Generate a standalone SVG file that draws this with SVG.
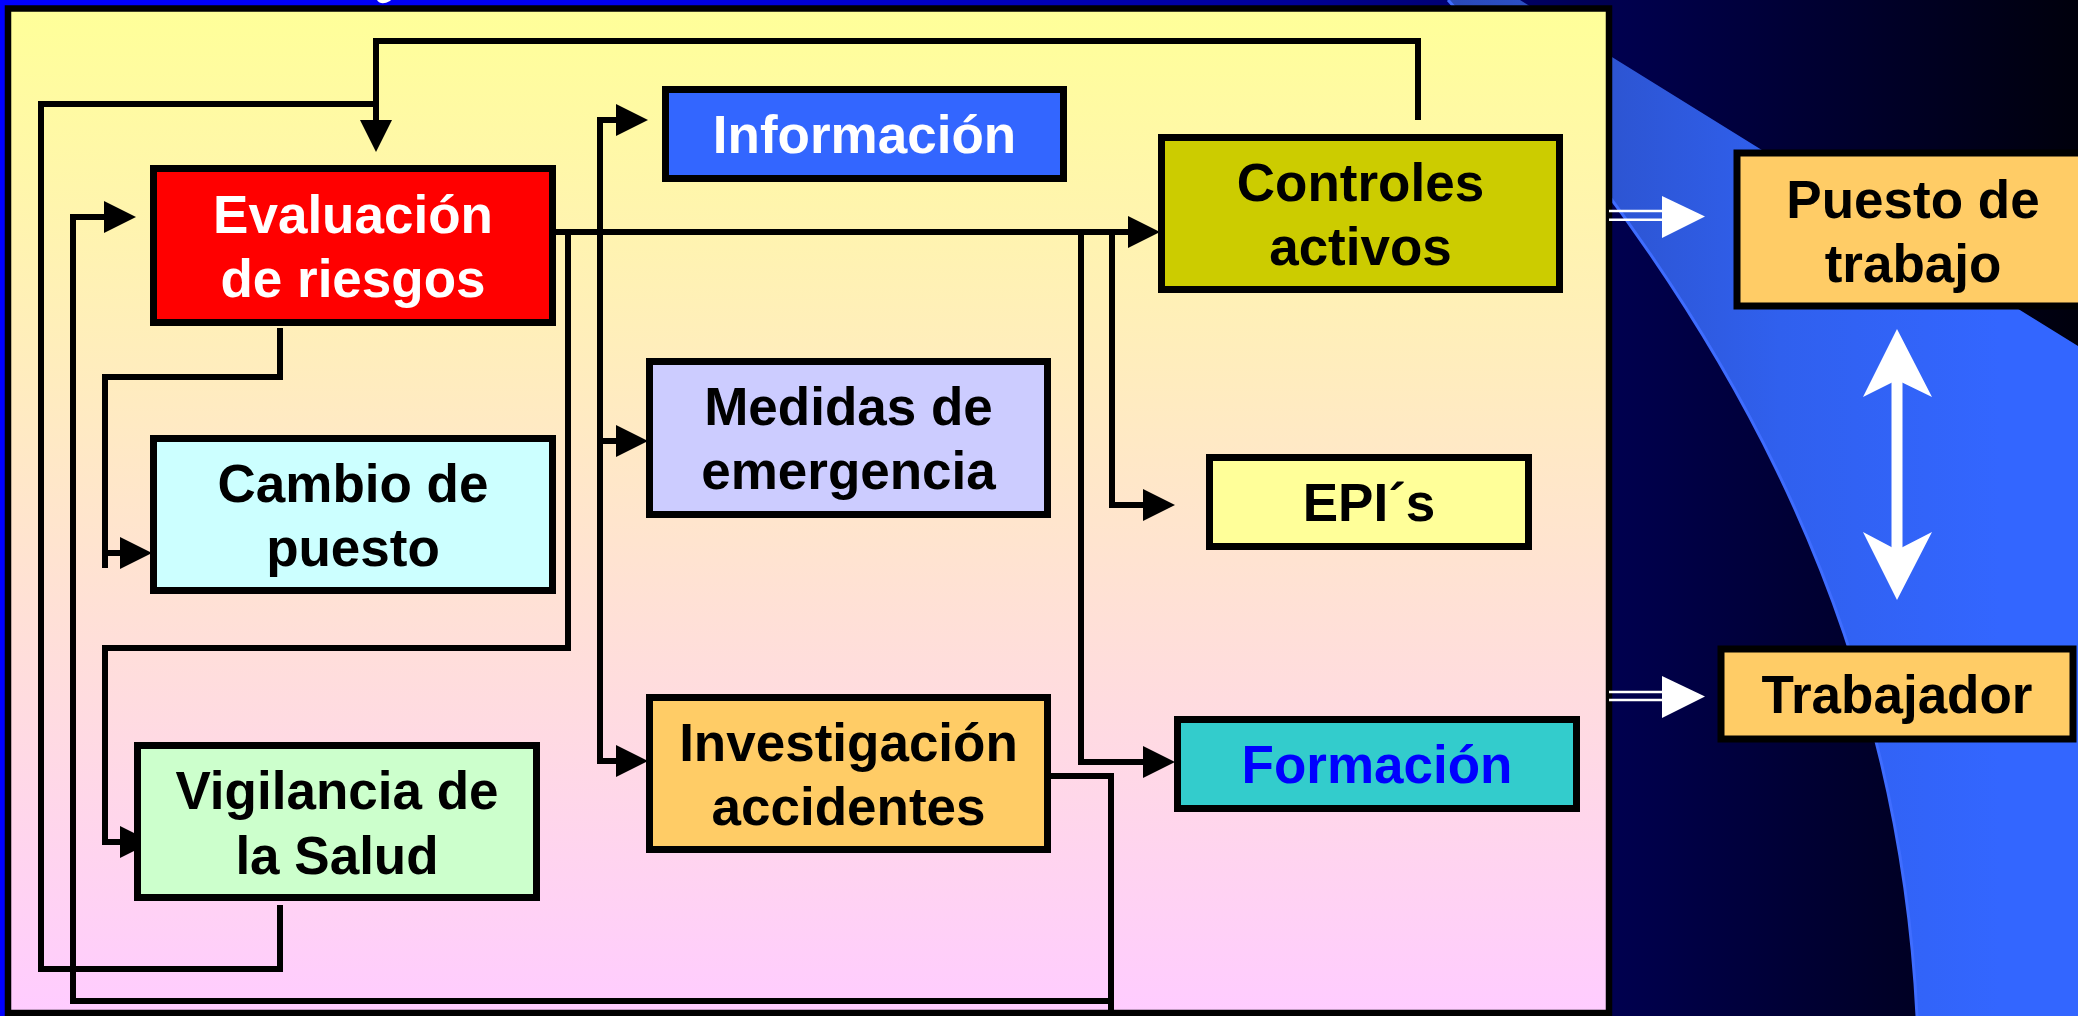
<svg xmlns="http://www.w3.org/2000/svg" width="2078" height="1016" viewBox="0 0 2078 1016">
<defs>
<linearGradient id="bg" gradientUnits="userSpaceOnUse" x1="0" y1="0" x2="2078" y2="0">
<stop offset="0" stop-color="#0000ff"/>
<stop offset="0.28" stop-color="#0000f0"/>
<stop offset="0.62" stop-color="#000096"/>
<stop offset="0.78" stop-color="#00004e"/>
<stop offset="1" stop-color="#00000c"/>
</linearGradient>
<linearGradient id="sw" gradientUnits="userSpaceOnUse" x1="1450" y1="0" x2="2000" y2="0">
<stop offset="0" stop-color="#2a4ab8"/>
<stop offset="0.6" stop-color="#3060ee"/>
<stop offset="1" stop-color="#3366ff"/>
</linearGradient>
<linearGradient id="panel" gradientUnits="userSpaceOnUse" x1="0" y1="10" x2="0" y2="1012">
<stop offset="0" stop-color="#ffff99"/>
<stop offset="1" stop-color="#ffccff"/>
</linearGradient>
<marker id="ah" viewBox="0 -16 32 32" refX="0" refY="0" markerWidth="32" markerHeight="32" markerUnits="userSpaceOnUse" orient="auto-start-reverse">
<path d="M0,-16 L32,0 L0,16 Z" fill="#000"/>
</marker>
<style>
.node rect{stroke:#000;stroke-width:7}
.node text{font-family:"Liberation Sans",Arial,sans-serif;font-weight:bold;font-size:53px;text-anchor:middle;fill:#000}
.conn path{fill:none;stroke:#000;stroke-width:6;stroke-linejoin:miter;stroke-linecap:butt}
.warrow{fill:#fff}
.wline{stroke:#fff;stroke-width:2.6}
</style>
</defs>
<rect x="0" y="0" width="2078" height="1016" fill="url(#bg)"/>
<path d="M1448,0 C1720,300 1897,616 1917,1016 L2078,1016 L2078,346 L1520,0 Z" fill="url(#sw)"/>
<path d="M1448,0 C1720,300 1897,616 1917,1016" fill="none" stroke="#3f6dff" stroke-width="3"/>
<path d="M377,0 Q381,6 390,1 L391,0 Z" fill="#fff"/>
<rect id="panel" x="8" y="8.5" width="1601" height="1004.5" fill="url(#panel)" stroke="#000" stroke-width="6.5"/>
<g id="connectors" class="conn">
<path d="M1418,120 V41 H376 V120" marker-end="url(#ah)"/>
<path d="M280,905 V969 H41 V104 H376"/>
<path d="M1051,776 H1111 V1016 M1111,1001 H73 V217 H104" marker-end="url(#ah)"/>
<path d="M280,328 V377 H105 V568 M105,553 H120" marker-end="url(#ah)"/>
<path d="M556,232 H1128" marker-end="url(#ah)"/>
<path d="M568,232 V648 H105 V842 H120" marker-end="url(#ah)"/>
<path d="M616,120 H600 V761 H616" marker-start="url(#ah)" marker-end="url(#ah)"/>
<path d="M600,441 H616" marker-end="url(#ah)"/>
<path d="M1081,232 V762 H1143" marker-end="url(#ah)"/>
<path d="M1112,232 V505 H1143" marker-end="url(#ah)"/>
</g>
<g id="evaluacion" class="node">
<rect x="153.5" y="168.5" width="399" height="154" fill="#ff0000"/>
<text x="353" y="233" fill="#fff" style="fill:#fff">Evaluación</text>
<text x="353" y="297" style="fill:#fff">de riesgos</text>
</g>
<g id="informacion" class="node">
<rect x="665.5" y="89.5" width="398" height="89" fill="#3366ff"/>
<text x="864.5" y="153" style="fill:#fff">Información</text>
</g>
<g id="controles" class="node">
<rect x="1161.5" y="137.5" width="398" height="152" fill="#cccc00"/>
<text x="1360.5" y="201">Controles</text>
<text x="1360.5" y="265">activos</text>
</g>
<g id="medidas" class="node">
<rect x="649.5" y="361.5" width="398" height="153" fill="#ccccff"/>
<text x="848.5" y="425">Medidas de</text>
<text x="848.5" y="489">emergencia</text>
</g>
<g id="epis" class="node">
<rect x="1209.5" y="457.5" width="319" height="89" fill="#ffff99"/>
<text x="1369" y="521">EPI´s</text>
</g>
<g id="cambio" class="node">
<rect x="153.5" y="438.5" width="399" height="152" fill="#ccffff"/>
<text x="353" y="502">Cambio de</text>
<text x="353" y="566">puesto</text>
</g>
<g id="vigilancia" class="node">
<rect x="137.5" y="745.5" width="399" height="152" fill="#ccffcc"/>
<text x="337" y="809">Vigilancia de</text>
<text x="337" y="874">la Salud</text>
</g>
<g id="investigacion" class="node">
<rect x="649.5" y="697.5" width="398" height="152" fill="#ffcc66"/>
<text x="848.5" y="761">Investigación</text>
<text x="848.5" y="825">accidentes</text>
</g>
<g id="formacion" class="node">
<rect x="1177.5" y="719.5" width="399" height="89" fill="#33cccc"/>
<text x="1377" y="783" style="fill:#0000ff">Formación</text>
</g>
<g id="puesto" class="node">
<rect x="1737" y="153" width="400" height="153" fill="#ffcc66"/>
<text x="1913" y="218">Puesto de</text>
<text x="1913" y="282">trabajo</text>
</g>
<g id="trabajador" class="node">
<rect x="1721" y="649" width="352" height="90" fill="#ffcc66"/>
<text x="1897" y="713">Trabajador</text>
</g>
<g id="white-arrows">
<line class="wline" x1="1609" y1="211" x2="1664" y2="211"/>
<line class="wline" x1="1609" y1="219.7" x2="1664" y2="219.7"/>
<polygon class="warrow" points="1662,196 1705,216.5 1662,238"/>
<line class="wline" x1="1609" y1="692" x2="1664" y2="692"/>
<line class="wline" x1="1609" y1="700" x2="1664" y2="700"/>
<polygon class="warrow" points="1662,676 1705,696.5 1662,718"/>
<rect class="warrow" x="1891.5" y="378" width="11" height="174"/>
<polygon class="warrow" points="1897,329 1932,397 1897,380 1863,397"/>
<polygon class="warrow" points="1897,600 1932,532 1897,550 1863,532"/>
</g>
</svg>
